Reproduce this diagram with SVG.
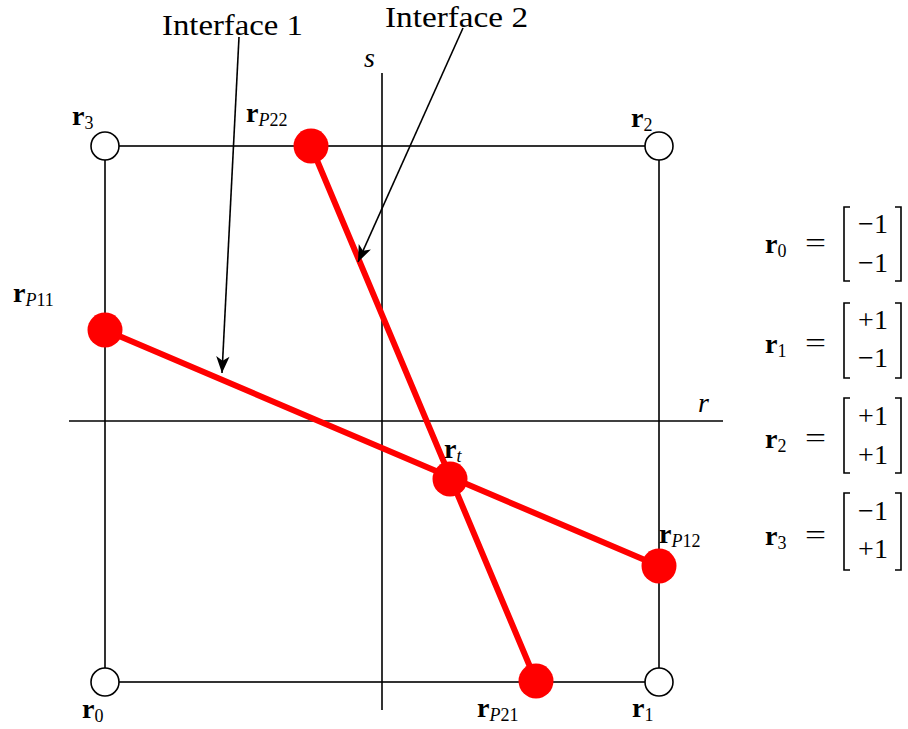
<svg xmlns="http://www.w3.org/2000/svg" width="908" height="729" viewBox="0 0 908 729">
<style>
.ln{stroke:#000;stroke-width:1.6;fill:none}
.red{stroke:#ff0000;stroke-width:6;fill:none;stroke-linecap:round}
.open{fill:#fff;stroke:#000;stroke-width:1.6}
.pt{fill:#ff0000}
text{font-family:"Liberation Serif","Times New Roman",serif;fill:#000}
.lab{font-size:28px}
.b{font-weight:bold}
.it{font-style:italic}
.sub{font-size:18px}
.ent{font-size:28px;text-anchor:middle}
.big{font-size:29px}
</style>
<defs>
<marker id="ah" markerUnits="userSpaceOnUse" markerWidth="20" markerHeight="20" viewBox="-16 -8 18 16" refX="0" refY="0" orient="auto">
<path d="M0,0 L-15,-6 L-11,0 L-15,6 Z" fill="#000"/>
</marker>
</defs>
<g id="axes">
<line class="ln" x1="69" y1="421" x2="723" y2="421"/>
<line class="ln" x1="382" y1="73" x2="382" y2="710"/>
<text x="698" y="412" class="lab it">r</text>
<text x="364" y="67" class="lab it">s</text>
</g>
<g id="square">
<rect class="ln" x="105" y="146" width="554" height="536"/>
</g>
<g id="connectors">
<line class="red" x1="105" y1="330" x2="659" y2="566"/>
<line class="red" x1="311" y1="146" x2="536" y2="681"/>
<line class="ln" x1="239" y1="37" x2="222" y2="373" marker-end="url(#ah)"/>
<line class="ln" x1="463" y1="28" x2="358" y2="262" marker-end="url(#ah)"/>
</g>
<g id="r0"><circle class="open" cx="105" cy="682" r="14"/><text x="82" y="718" class="lab"><tspan class="b">r</tspan><tspan class="sub" dy="4">0</tspan></text></g>
<g id="r1"><circle class="open" cx="659" cy="682" r="14"/><text x="632" y="717" class="lab"><tspan class="b">r</tspan><tspan class="sub" dy="4">1</tspan></text></g>
<g id="r2"><circle class="open" cx="659" cy="146" r="14"/><text x="631" y="127" class="lab"><tspan class="b">r</tspan><tspan class="sub" dy="4">2</tspan></text></g>
<g id="r3"><circle class="open" cx="105" cy="146" r="14"/><text x="72" y="125" class="lab"><tspan class="b">r</tspan><tspan class="sub" dy="4">3</tspan></text></g>
<g id="rP22"><circle class="pt" cx="311" cy="146" r="17.5"/><text x="246" y="122" class="lab"><tspan class="b">r</tspan><tspan class="sub it" dy="4">P</tspan><tspan class="sub">22</tspan></text></g>
<g id="rP11"><circle class="pt" cx="105" cy="330" r="17.5"/><text x="13" y="302" class="lab"><tspan class="b">r</tspan><tspan class="sub it" dy="4">P</tspan><tspan class="sub">11</tspan></text></g>
<g id="rt"><circle class="pt" cx="450" cy="479" r="17.5"/><text x="444" y="458" class="lab"><tspan class="b">r</tspan><tspan class="sub it" dy="4">t</tspan></text></g>
<g id="rP12"><circle class="pt" cx="659" cy="566" r="17.5"/><text x="659" y="543" class="lab"><tspan class="b">r</tspan><tspan class="sub it" dy="4">P</tspan><tspan class="sub">12</tspan></text></g>
<g id="rP21"><circle class="pt" cx="536" cy="681" r="17.5"/><text x="477" y="717" class="lab"><tspan class="b">r</tspan><tspan class="sub it" dy="4">P</tspan><tspan class="sub">21</tspan></text></g>
<g id="interface1"><text x="162" y="35" class="big" textLength="141" lengthAdjust="spacingAndGlyphs">Interface 1</text></g>
<g id="interface2"><text x="385" y="27" class="big" textLength="143" lengthAdjust="spacingAndGlyphs">Interface 2</text></g>
<g id="matrices">
<g id="m0">
<text x="765" y="253" class="lab"><tspan class="b">r</tspan><tspan class="sub" dy="4">0</tspan></text>
<text x="805" y="252" class="lab" textLength="21" lengthAdjust="spacingAndGlyphs">=</text>
<path class="ln" d="M850,207 H844 V281 H850 M895,207 H901 V281 H895"/>
<text x="873" y="233" class="ent">−1</text>
<text x="873" y="272" class="ent">−1</text>
</g>
<g id="m1">
<text x="765" y="353" class="lab"><tspan class="b">r</tspan><tspan class="sub" dy="4">1</tspan></text>
<text x="805" y="352" class="lab" textLength="21" lengthAdjust="spacingAndGlyphs">=</text>
<path class="ln" d="M850,303 H844 V378 H850 M895,303 H901 V378 H895"/>
<text x="873" y="329" class="ent">+1</text>
<text x="873" y="367" class="ent">−1</text>
</g>
<g id="m2">
<text x="765" y="448" class="lab"><tspan class="b">r</tspan><tspan class="sub" dy="4">2</tspan></text>
<text x="805" y="447" class="lab" textLength="21" lengthAdjust="spacingAndGlyphs">=</text>
<path class="ln" d="M850,398 H844 V473 H850 M895,398 H901 V473 H895"/>
<text x="873" y="425" class="ent">+1</text>
<text x="873" y="464" class="ent">+1</text>
</g>
<g id="m3">
<text x="765" y="545" class="lab"><tspan class="b">r</tspan><tspan class="sub" dy="4">3</tspan></text>
<text x="805" y="544" class="lab" textLength="21" lengthAdjust="spacingAndGlyphs">=</text>
<path class="ln" d="M850,493 H844 V570 H850 M895,493 H901 V570 H895"/>
<text x="873" y="520" class="ent">−1</text>
<text x="873" y="558" class="ent">+1</text>
</g>
</g>
</svg>
